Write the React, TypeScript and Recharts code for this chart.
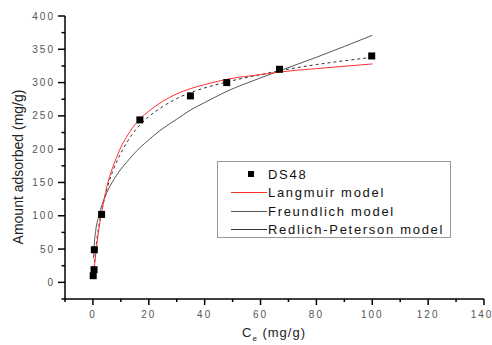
import { ComposedChart, Line, Scatter, XAxis, YAxis } from 'recharts';

// measured isotherm points (DS48)
const ceData = [0.1, 0.4, 0.5, 3.1, 16.8, 34.9, 47.9, 66.8, 99.8];
const qeData = [10, 19, 49, 102, 244, 280, 300, 320, 340];

// model curves
const ceModel = [0.2, 0.5, 1, 2, 3, 5, 7, 8.5, 10, 12, 14, 17, 20, 22.5, 25, 30, 35, 40, 48, 60, 67, 80, 100];
const langmuir = [9, 22, 42, 76, 102, 144, 172, 188, 203, 218, 231, 246, 257, 265, 272, 283, 291, 297, 305, 312, 316, 321, 328];
const freundlich = [36, 58, 78, 98, 113, 135, 151, 161, 170, 180, 190, 203, 214, 223, 231, 245, 259, 270, 287, 307, 318, 338, 371];
const redlich = [12, 28, 50, 82, 104, 140, 166, 181, 194, 209, 222, 237, 249, 257, 264, 276, 285, 292, 301, 312, 318, 327, 338];

const xTicks = [-10, 0, 10, 20, 30, 40, 50, 60, 70, 80, 90, 100, 110, 120, 130, 140];
const yTicks = [-25, 0, 25, 50, 75, 100, 125, 150, 175, 200, 225, 250, 275, 300, 325, 350, 375, 400];

const points = ceData.map((c, i) => ({ c, q: qeData[i] }));
const curves = ceModel.map((c, i) => ({ c, lang: langmuir[i], freu: freundlich[i], rp: redlich[i] }));

const font = 'Liberation Sans, Arial, sans-serif';
const tickColor = '#555';

function XTick(props: any) {
  const { x, y, payload } = props;
  const v = payload.value;
  const major = v % 20 === 0;
  return (
    <g>
      <line x1={x} x2={x} y1={y} y2={y + (major ? 6 : 3)} stroke="#000" strokeWidth={1.5} />
      {major && v >= 0 && (
        <text x={v === 140 ? x - 2 : x} y={y + 19} textAnchor="middle" fontSize={10} letterSpacing={2}
          fill={tickColor} fontFamily={font}>{v}</text>
      )}
    </g>
  );
}

function YTick(props: any) {
  const { x, y, payload } = props;
  const v = payload.value;
  const major = v % 50 === 0;
  return (
    <g>
      <line x1={x - (major ? 7 : 3.5)} x2={x} y1={y} y2={y} stroke="#000" strokeWidth={1.5} />
      {major && v >= 0 && (
        <text x={x - 10} y={y + 3.5} textAnchor="end" fontSize={10} letterSpacing={2}
          fill={tickColor} fontFamily={font}>{v}</text>
      )}
    </g>
  );
}

function Square(props: any) {
  const { cx, cy } = props;
  return <rect x={cx - 3.5} y={cy - 3.5} width={7} height={7} fill="#000" />;
}

const legendItems = [
  { name: 'DS48', kind: 'square', color: '#000' },
  { name: 'Langmuir model', kind: 'line', color: '#ff3030' },
  { name: 'Freundlich model', kind: 'line', color: '#555' },
  { name: 'Redlich-Peterson model', kind: 'line', color: '#333' },
];

export default function App() {
  return (
    <div style={{ position: 'absolute', left: 0, top: 0, width: 492, height: 345, background: '#fff', fontFamily: font }}>
      <ComposedChart width={492} height={345} margin={{ top: 16, right: 8, left: 8, bottom: 16 }}>
        <XAxis dataKey="c" type="number" domain={[-10, 140]} ticks={xTicks} height={30}
          axisLine={{ stroke: '#000', strokeWidth: 1.5 }} tickLine={false} tickSize={0} tickMargin={0}
          tick={<XTick />} interval={0} />
        <XAxis xAxisId="top" orientation="top" type="number" domain={[-10, 140]} height={0}
          axisLine={{ stroke: '#000', strokeWidth: 1.5 }} tick={false} tickLine={false} />
        <YAxis type="number" domain={[-25, 400]} ticks={yTicks} width={57}
          axisLine={{ stroke: '#000', strokeWidth: 1.5 }} tickLine={false} tickSize={0} tickMargin={0}
          tick={<YTick />} interval={0} />
        <YAxis yAxisId="right" orientation="right" type="number" domain={[-25, 400]} width={0}
          axisLine={{ stroke: '#000', strokeWidth: 1.5 }} tick={false} tickLine={false} />
        <Line data={curves} dataKey="freu" type="monotone" stroke="#555" strokeWidth={1}
          dot={false} isAnimationActive={false} />
        <Line data={curves} dataKey="rp" type="monotone" stroke="#333" strokeWidth={1}
          strokeDasharray="3 3" dot={false} isAnimationActive={false} />
        <Line data={curves} dataKey="lang" type="monotone" stroke="#ff3030" strokeWidth={1}
          dot={false} isAnimationActive={false} />
        <Scatter data={points} dataKey="q" shape={<Square />} isAnimationActive={false} />
      </ComposedChart>

      <div style={{
        position: 'absolute', left: 217, top: 161, width: 234, height: 77,
        border: '1px solid #999', background: '#fff', boxSizing: 'border-box',
      }}>
        {legendItems.map((it, i) => (
          <div key={it.name} style={{ position: 'absolute', left: 0, top: 3 + i * 18.5, height: 18, display: 'flex', alignItems: 'center' }}>
            <div style={{ width: 50, display: 'flex', justifyContent: 'center', alignItems: 'center' }}>
              {it.kind === 'square'
                ? <div style={{ width: 6, height: 6, background: it.color, marginLeft: 16 }} />
                : <div style={{ width: 36, height: 1, background: it.color, marginLeft: 11 }} />}
            </div>
            <span style={{ fontSize: 13, letterSpacing: 1.7, color: '#111', whiteSpace: 'nowrap' }}>{it.name}</span>
          </div>
        ))}
      </div>

      <div style={{
        position: 'absolute', left: 18, top: 167, transform: 'translate(-50%, -50%) rotate(-90deg)',
        fontSize: 14, color: '#222', whiteSpace: 'nowrap',
      }}>Amount adsorbed (mg/g)</div>
      <div style={{
        position: 'absolute', left: 274, top: 334, transform: 'translate(-50%, -50%)',
        fontSize: 13, letterSpacing: 1, color: '#222', whiteSpace: 'nowrap',
      }}>C<sub style={{ fontSize: 8 }}>e</sub> (mg/g)</div>
    </div>
  );
}
